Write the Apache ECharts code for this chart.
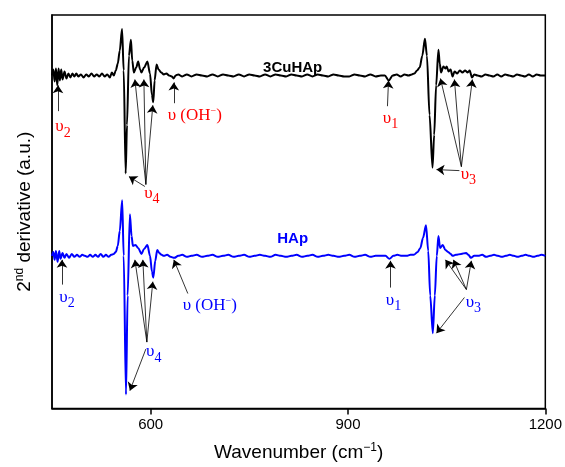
<!DOCTYPE html>
<html>
<head>
<meta charset="utf-8">
<script src="https://cdn.jsdelivr.net/npm/echarts@6/dist/echarts.min.js"></script>
<style>
  html, body { margin: 0; padding: 0; background: #fff; }
  #chart { width: 565px; height: 467px; }
</style>
</head>
<body>
<div id="chart"></div>
<script>
  // 3CuHAp (black), 2nd derivative relative to its own baseline
  const cuWave = [450, 452, 454, 456, 458, 460, 462, 464, 466, 469, 472, 475, 478, 481, 484, 487, 490, 494, 498, 502, 506, 510, 514, 518, 522, 526, 530, 534, 538, 541, 544,
    547, 550, 553, 556.5, 559, 562, 564, 567, 570, 572, 574.5, 578, 581, 584, 586, 590, 595, 599, 602, 604, 606, 609, 612, 616, 620, 624, 628, 632, 635, 638, 642,
    648, 655, 662, 670, 678, 686, 694, 702, 710, 718, 726, 734, 742, 750, 758, 766, 774, 782, 790, 798, 806, 814, 822, 830, 838, 846, 854, 862, 870, 878, 886, 894,
    902, 910, 918, 926, 934, 942, 950, 956, 962, 968, 974, 980, 986, 992, 997,
    1001, 1005, 1009, 1013, 1017, 1020, 1024, 1028.5, 1031, 1034, 1037.5, 1039.5, 1041.5, 1045, 1048, 1050, 1053, 1056, 1059, 1062, 1066, 1070, 1074, 1078, 1082, 1085, 1088.5, 1092,
    1097, 1103, 1109, 1115, 1121, 1127, 1133, 1139, 1145, 1151, 1157, 1163, 1169, 1175, 1181, 1187, 1193, 1200];
  const cuVal = [0.00, 0.06, -0.06, 0.07, -0.10, 0.07, -0.05, 0.06, -0.04, 0.04, -0.03, 0.02, -0.02, 0.02, -0.01, 0.02, -0.01, 0.01, -0.02, 0.01, -0.01, 0.02, -0.01, 0.01, -0.01, 0.02, -0.01, 0.01, -0.02, 0.03, 0.00,
    0.05, 0.12, 0.25, 0.47, 0.05, -0.99, -0.50, 0.20, 0.36, 0.15, 0.03, 0.08, 0.14, 0.06, 0.03, 0.08, 0.14, 0.02, -0.20, -0.27, -0.05, 0.11, 0.06, 0.03, 0.01, 0.02, 0.00, -0.01, -0.03, 0.00, 0.01,
    -0.01, 0.01, -0.01, 0.01, 0.00, -0.01, 0.01, -0.01, 0.01, 0.00, -0.01, 0.01, -0.01, 0.01, 0.00, -0.01, 0.01, -0.01, 0.01, 0.00, -0.01, 0.01, 0.00, -0.01, 0.01, -0.01, 0.01, 0.00, -0.01, 0.01, 0.00, -0.01,
    -0.01, 0.01, 0.00, -0.01, 0.01, -0.01, 0.00, 0.00, -0.05, 0.00, 0.01, -0.01, 0.01, 0.00, 0.01,
    0.02, 0.05, 0.08, 0.20, 0.37, 0.20, -0.40, -0.93, -0.60, -0.10, 0.26, 0.12, 0.03, 0.09, 0.07, 0.09, 0.04, 0.06, -0.01, 0.04, 0.02, 0.05, 0.03, 0.05, 0.03, 0.05, -0.02, 0.01,
    0.00, -0.01, 0.01, 0.00, -0.01, 0.01, -0.01, 0.01, 0.00, -0.01, 0.01, 0.00, -0.01, 0.01, -0.01, 0.01, 0.00, 0.00];

  // HAp (blue)
  const hapWave = [450, 452, 454, 456, 458.5, 461, 463, 466, 469, 472, 476, 480, 484, 488, 492, 496, 500, 504, 508, 512, 516, 520, 524, 528, 532, 536, 540, 544,
    547, 550, 553, 556.7, 559, 562.5, 565, 568.4, 571, 573, 577, 581, 586, 590, 595, 599, 602, 604, 607, 610, 613, 616.5, 620, 625, 630, 636, 642,
    648, 655, 662, 670, 678, 686, 694, 702, 710, 718, 726, 734, 742, 750, 758, 766, 774, 782, 790, 798, 806, 814, 822, 830, 838, 846, 854, 862, 870, 878, 886, 894,
    902, 910, 918, 926, 934, 942, 950, 957, 963, 969, 975, 982, 989, 995,
    1000, 1006, 1010, 1014, 1018.6, 1022, 1025, 1029, 1032, 1035, 1037.5, 1040, 1044, 1048, 1052, 1056, 1059, 1064, 1072, 1079.5, 1083, 1087, 1092,
    1098, 1104, 1110, 1116, 1122, 1128, 1134, 1140, 1146, 1152, 1158, 1164, 1170, 1176, 1182, 1188, 1194, 1200];
  const hapVal = [0.00, 0.04, -0.04, 0.05, -0.06, 0.05, -0.03, 0.03, -0.02, 0.02, -0.02, 0.02, -0.01, 0.01, -0.01, 0.01, 0.00, -0.01, 0.01, -0.01, 0.01, -0.01, 0.02, -0.01, 0.01, -0.01, 0.01, 0.02,
    0.04, 0.10, 0.25, 0.56, 0.00, -1.40, -0.40, 0.42, 0.20, 0.10, 0.11, 0.08, 0.02, 0.07, 0.11, 0.00, -0.16, -0.22, -0.05, 0.06, 0.03, 0.01, 0.00, 0.01, -0.01, -0.02, 0.00,
    0.01, -0.01, 0.00, 0.01, -0.01, 0.00, 0.01, -0.01, 0.00, 0.01, -0.01, 0.00, 0.01, -0.01, 0.00, 0.01, 0.00, -0.01, 0.01, 0.00, -0.01, 0.00, 0.01, -0.01, 0.00, 0.01, -0.01, 0.00, 0.01, 0.00, -0.01, 0.00,
    0.01, -0.01, 0.00, 0.01, -0.01, 0.00, 0.00, 0.00, -0.03, 0.00, 0.01, 0.00, 0.00, 0.01,
    0.01, 0.04, 0.08, 0.18, 0.31, 0.05, -0.40, -0.78, -0.40, 0.00, 0.20, 0.08, 0.11, 0.06, 0.04, 0.02, 0.00, 0.01, 0.02, 0.03, 0.01, -0.02, 0.00,
    0.00, 0.01, -0.01, 0.00, 0.01, 0.00, -0.01, 0.00, 0.01, 0.00, -0.01, 0.00, 0.01, 0.00, -0.01, 0.00, 0.01, 0.00];

  const cuOffset = 1.82;
  const xTicks = [600, 900, 1200];

  const cuData = cuWave.map((w, i) => [w, cuVal[i] + cuOffset]);
  const hapData = hapWave.map((w, i) => [w, hapVal[i]]);

  // annotation helpers (data coordinates)
  function arrows (list) {
    return list.map(a => [{coord: a[0]}, {coord: a[1]}]);
  }
  function labels (list, color, size) {
    return list.map(l => ({
      coord: l[0],
      label: {
        show: true, formatter: l[1], color: color,
        fontFamily: 'Liberation Serif', fontSize: size || 17,
        rich: {
          u: {fontFamily: 'Liberation Serif', fontSize: 17, color: color},
          s: {fontFamily: 'Liberation Serif', fontSize: 14, color: color, padding: [12, 0, 0, 0]},
          p: {fontFamily: 'Liberation Serif', fontSize: 10, color: color, padding: [0, 0, 8, 0]}
        }
      }
    }));
  }

  const cuArrows = [
    [[459.1, 1.46], [459.1, 1.72]],
    [[592.7, 0.72], [576, 1.78]],
    [[592.7, 0.72], [589.7, 1.78]],
    [[592.7, 0.72], [603.3, 1.52]],
    [[591.2, 0.70], [566.9, 0.80]],
    [[635.2, 1.54], [635.2, 1.75]],
    [[960, 1.51], [961.6, 1.77]],
    [[1072.4, 0.90], [1040.5, 1.79]],
    [[1072.4, 0.90], [1061.8, 1.78]],
    [[1072.4, 0.90], [1089.1, 1.78]],
    [[1069.4, 0.86], [1034.5, 0.87]]
  ];
  const hapArrows = [
    [[465.2, -0.29], [465.2, -0.04]],
    [[594.2, -0.87], [576, -0.04]],
    [[594.2, -0.87], [588.1, -0.04]],
    [[594.2, -0.87], [603.3, -0.26]],
    [[592.7, -0.94], [568.4, -1.36]],
    [[656.5, -0.38], [635.2, -0.04]],
    [[964.6, -0.32], [964.6, -0.05]],
    [[1080, -0.34], [1048.1, -0.04]],
    [[1080, -0.34], [1060.3, -0.04]],
    [[1080, -0.34], [1087.6, -0.05]],
    [[1077, -0.42], [1034.5, -0.78]]
  ];
  const cuLabels = [
    [[466.7, 1.30], '{u|υ}{s|2}'],
    [[601.8, 0.63], '{u|υ}{s|4}'],
    [[667, 1.42], '{u|υ (OH}{p|−}{u|)}'],
    [[964.6, 1.39], '{u|υ}{s|1}'],
    [[1083, 0.82], '{u|υ}{s|3}']
  ];
  const hapLabels = [
    [[472.8, -0.42], '{u|υ}{s|2}'],
    [[604.8, -0.97], '{u|υ}{s|4}'],
    [[689.9, -0.50], '{u|υ (OH}{p|−}{u|)}'],
    [[969.2, -0.45], '{u|υ}{s|1}'],
    [[1090.6, -0.47], '{u|υ}{s|3}']
  ];

  const arrowLine = {
    silent: true, animation: false,
    symbol: ['none', 'arrow'], symbolSize: 8,
    label: {show: false},
    lineStyle: {color: '#000', width: 0.8, type: 'solid'}
  };

  const chart = echarts.init(document.getElementById('chart'));
  chart.setOption({
    animation: false,
    grid: {left: 52, right: 19, top: 15, bottom: 55, show: true, borderColor: '#000', borderWidth: 1.5},
    xAxis: {
      type: 'value', min: 450, max: 1200,
      name: 'Wavenumber (cm{p|−1})', nameLocation: 'middle', nameGap: 33,
      nameTextStyle: {fontFamily: 'Liberation Sans', fontSize: 19, color: '#000',
        rich: {p: {fontFamily: 'Liberation Sans', fontSize: 12, color: '#000', padding: [0, 0, 10, 0]}}},
      axisLine: {onZero: false, lineStyle: {color: '#000', width: 1.5}},
      axisTick: {show: true, length: 6, lineStyle: {color: '#000', width: 1.5}, customValues: xTicks},
      axisLabel: {fontFamily: 'Liberation Sans', fontSize: 15, color: '#000', margin: 9, customValues: xTicks,
        formatter: v => String(v)},
      splitLine: {show: false}
    },
    yAxis: {
      type: 'value', min: -1.54, max: 2.43,
      name: '2{p|nd} derivative (a.u.)', nameLocation: 'middle', nameGap: 16, nameRotate: 90,
      nameTextStyle: {fontFamily: 'Liberation Sans', fontSize: 19, color: '#000',
        rich: {p: {fontFamily: 'Liberation Sans', fontSize: 12, color: '#000', padding: [0, 0, 10, 0]}}},
      axisLine: {show: true, onZero: false, lineStyle: {color: '#000', width: 1.5}},
      axisTick: {show: false},
      axisLabel: {show: false},
      splitLine: {show: false}
    },
    series: [
      {
        name: '3CuHAp', type: 'line', data: cuData, showSymbol: false, smooth: 0.3, smoothMonotone: 'x',
        lineStyle: {color: '#000', width: 2}, itemStyle: {color: '#000'},
        markLine: Object.assign({data: arrows(cuArrows)}, arrowLine),
        markPoint: {
          symbol: 'circle', symbolSize: 0, silent: true, animation: false,
          data: labels(cuLabels, '#ff0000').concat([{
            coord: [815.9, 1.90],
            label: {show: true, formatter: '3CuHAp', color: '#000', fontFamily: 'Liberation Sans', fontWeight: 'bold', fontSize: 15}
          }])
        }
      },
      {
        name: 'HAp', type: 'line', data: hapData, showSymbol: false, smooth: 0.3, smoothMonotone: 'x',
        lineStyle: {color: '#0000ff', width: 2}, itemStyle: {color: '#0000ff'},
        markLine: Object.assign({data: arrows(hapArrows)}, arrowLine),
        markPoint: {
          symbol: 'circle', symbolSize: 0, silent: true, animation: false,
          data: labels(hapLabels, '#0000ff').concat([{
            coord: [815.9, 0.17],
            label: {show: true, formatter: 'HAp', color: '#0000ff', fontFamily: 'Liberation Sans', fontWeight: 'bold', fontSize: 15}
          }])
        }
      }
    ]
  });
</script>
</body>
</html>
